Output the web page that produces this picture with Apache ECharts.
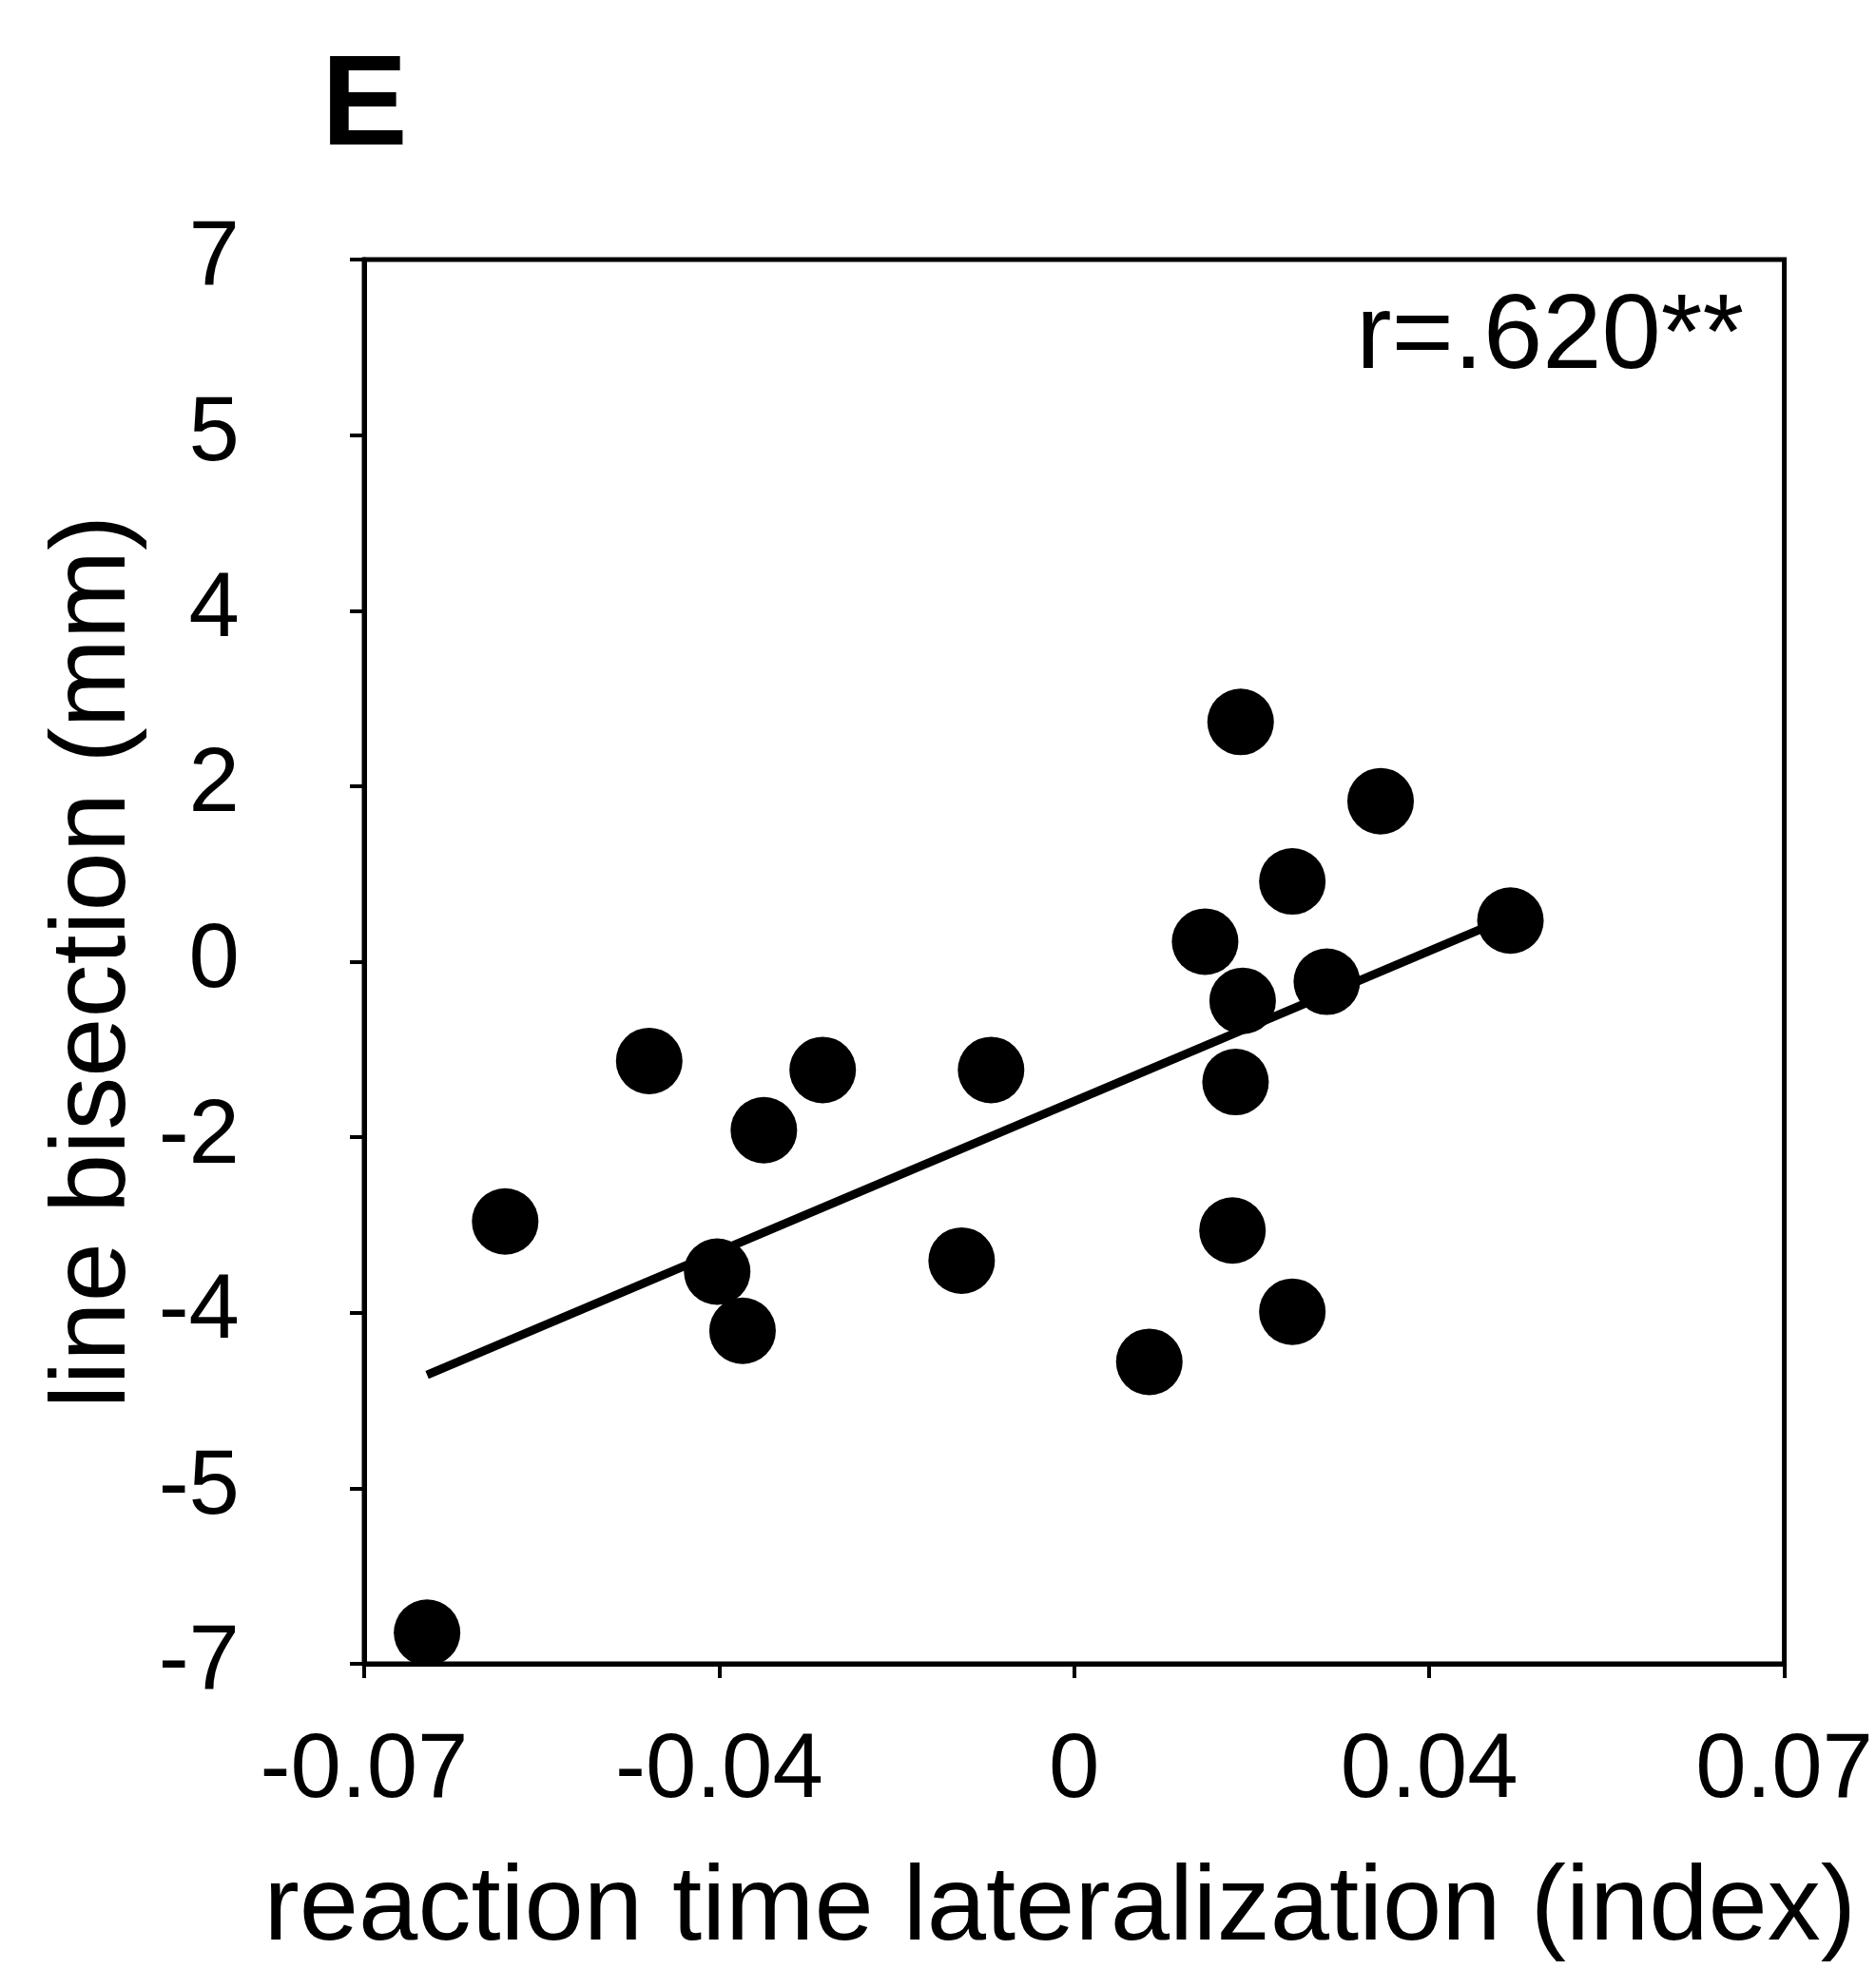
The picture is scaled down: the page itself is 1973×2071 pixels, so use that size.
<!DOCTYPE html>
<html>
<head>
<meta charset="utf-8">
<script src="https://cdn.jsdelivr.net/npm/echarts@6/dist/echarts.min.js"></script>
<style>
  html, body { margin: 0; padding: 0; background: #fff; }
  #chart { width: 1973px; height: 2071px; }
</style>
</head>
<body>
<div id="chart"></div>
<script>
// ---- data ----
const rtLateralization = [-0.0638, -0.0561, -0.0419, -0.0352, -0.0327, -0.0306, -0.0248, -0.0111, -0.0082, 0.0074,
                           0.0129, 0.0164, 0.0166, 0.0159, 0.0156, 0.0215, 0.0215, 0.0249, 0.0302, 0.0430];
const lineBisection = [-6.69, -2.59, -0.99, -3.09, -3.68, -1.68, -1.08, -2.98, -1.08, -3.99,
                        0.20, 2.39, -0.39, -1.20, -2.68, -3.49, 0.80, -0.20, 1.60, 0.41];
const trendX = [-0.0638, 0.0430];
const trendY = [-4.12, 0.45];
const xTickLabels = ['-0.07', '-0.04', '0', '0.04', '0.07'];
const yTickLabels = ['-7', '-5', '-4', '-2', '0', '2', '4', '5', '7'];
const X_MIN = -0.07, X_MAX = 0.07, X_STEP = 0.035;
const Y_MIN = -7, Y_MAX = 7, Y_STEP = 1.75;
const annotation = 'r=.620**';
const panelLabel = 'E';
const xTitle = 'reaction time lateralization (index)';
const yTitle = 'line bisection (mm)';

const FONT = '"Liberation Sans", Arial, Helvetica, sans-serif';
const chart = echarts.init(document.getElementById('chart'), null, { renderer: 'canvas' });

const points = rtLateralization.map((x, i) => [x, lineBisection[i]]);
const trend = trendX.map((x, i) => [x, trendY[i]]);

chart.setOption({
  backgroundColor: '#fff',
  animation: false,
  grid: {
    left: 383, right: 90, top: 273, bottom: 321,
    show: true, borderColor: '#000', borderWidth: 5, backgroundColor: 'transparent'
  },
  xAxis: {
    type: 'value', min: X_MIN, max: X_MAX, interval: X_STEP,
    splitLine: { show: false },
    axisLine: { show: true, onZero: false, lineStyle: { color: '#000', width: 5 } },
    axisTick: { show: true, inside: false, length: 15, lineStyle: { color: '#000', width: 4 } },
    axisLabel: {
      color: '#000', fontFamily: FONT, fontSize: 96, margin: 66,
      formatter: v => xTickLabels[Math.round((v - X_MIN) / X_STEP)]
    },
    name: xTitle, nameLocation: 'middle', nameGap: 203,
    nameTextStyle: { color: '#000', fontFamily: FONT, fontSize: 112, padding: [0, 30, 0, 0] }
  },
  yAxis: {
    type: 'value', min: Y_MIN, max: Y_MAX, interval: Y_STEP,
    splitLine: { show: false },
    axisLine: { show: true, onZero: false, lineStyle: { color: '#000', width: 5 } },
    axisTick: { show: true, inside: false, length: 15, lineStyle: { color: '#000', width: 4 } },
    axisLabel: {
      color: '#000', fontFamily: FONT, fontSize: 96, margin: 131,
      formatter: v => yTickLabels[Math.round((v - Y_MIN) / Y_STEP)]
    },
    name: yTitle, nameLocation: 'middle', nameGap: 226, nameRotate: 90,
    nameTextStyle: { color: '#000', fontFamily: FONT, fontSize: 112 }
  },
  graphic: [
    {
      type: 'text', left: 338, top: 46,
      style: { text: panelLabel, font: 'bold 136px ' + FONT, fill: '#000' }
    },
    {
      type: 'text', right: 1973 - 1834, top: 300,
      style: { text: annotation, font: '112px ' + FONT, fill: '#000' }
    }
  ],
  series: [
    {
      type: 'line', data: trend, showSymbol: false, symbol: 'none', z: 2,
      lineStyle: { color: '#000', width: 9 }, silent: true
    },
    {
      type: 'scatter', data: points, symbol: 'circle', symbolSize: 70, z: 3,
      itemStyle: { color: '#000', opacity: 1 }, silent: true
    }
  ]
});
</script>
</body>
</html>
